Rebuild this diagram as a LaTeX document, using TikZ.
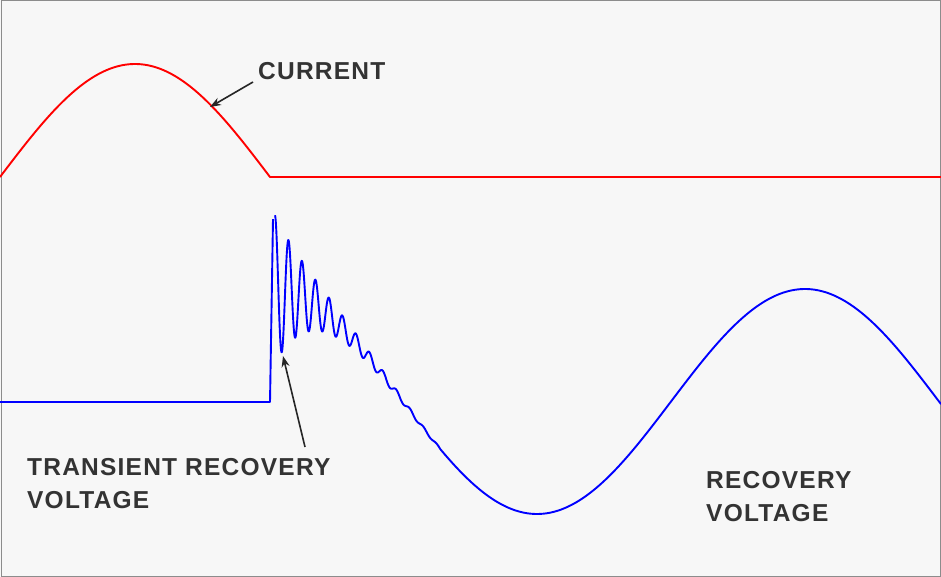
\documentclass[tikz,border=0pt]{standalone}
\usepackage{fontspec}
\setmainfont{Liberation Sans}
\newfontfamily\lblfont[LetterSpace=5]{Liberation Sans}
\usetikzlibrary{arrows.meta}
\begin{document}
\begin{tikzpicture}[x=1pt,y=-1pt,
  lbl/.style={font=\lblfont\bfseries\fontsize{24.5}{28}\selectfont, anchor=west, inner sep=0, text=black!80},
  pointer/.style={draw=black!85, line width=1.6pt, -{Stealth[length=11pt,width=8pt]}},
  wave/.style={line width=1.9pt, line join=round}]
\useasboundingbox (0,0) rectangle (941,577);
\fill[black!3] (0,0) rectangle (941,577);
\draw[black!45, line width=1pt] (1,1) rectangle (940,576);
% current
\draw[wave, red] plot[domain=0:270, samples=120] (\x,{177-113*sin(0.666667*\x)}) -- (941,177);
% voltage
\draw[wave, blue] (0,402) -- (270,402) -- (273,{401.5-112.5*sin(0.671642*(273-671))-70})
  plot[domain=275:440, samples=700] (\x,{401.5-112.5*sin(0.671642*(\x-671))-74*exp(-(\x-275)/38)*cos(26.6667*(\x-275))})
  plot[domain=440:941, samples=200] (\x,{401.5-112.5*sin(0.671642*(\x-671))});
\node[lbl] (cur) at (258,71) {CURRENT};
\coordinate (curtip) at (210,107);
\draw[pointer] (253,82) -- (curtip);
\node[lbl] (trv1) at (27,467) {TRANSIENT RECOVERY};
\node[lbl] (trv2) at (27,500) {VOLTAGE};
\coordinate (trvtip) at (283,356);
\draw[pointer] (305,447) -- (trvtip);
\node[lbl] (rv1) at (706,480) {RECOVERY};
\node[lbl] (rv2) at (706,513) {VOLTAGE};
\end{tikzpicture}
\end{document}
